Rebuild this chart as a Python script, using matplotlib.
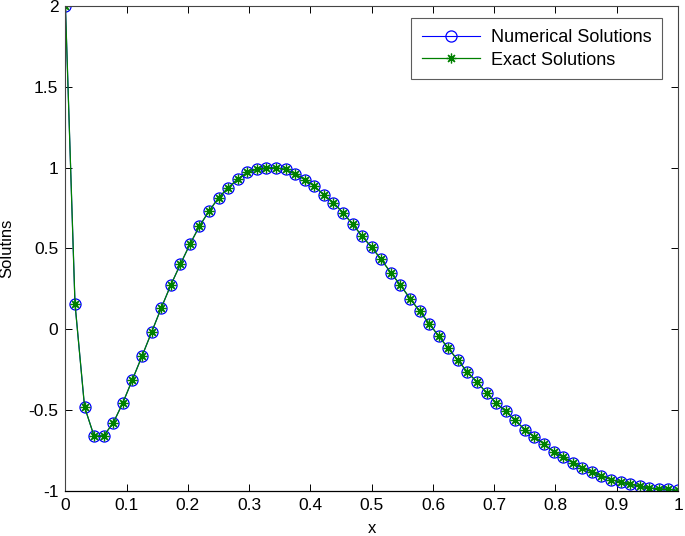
import matplotlib.pyplot as plt

# values (65 nodes, step 1/64)
n_points = 65
x_vals = [i / 64 for i in range(n_points)]

y_numerical = [
    2.0, 0.159, -0.481, -0.663, -0.660, -0.580, -0.456, -0.312, -0.167, -0.019,
    0.130, 0.272, 0.401, 0.525, 0.638, 0.731, 0.814, 0.876, 0.929, 0.971,
    0.991, 0.999, 0.999, 0.990, 0.960, 0.927, 0.886, 0.832, 0.783, 0.721,
    0.651, 0.576, 0.506, 0.432, 0.349, 0.273, 0.190, 0.112, 0.035, -0.043,
    -0.118, -0.192, -0.266, -0.327, -0.394, -0.457, -0.509, -0.565, -0.622, -0.667,
    -0.711, -0.758, -0.791, -0.826, -0.859, -0.884, -0.909, -0.931, -0.946, -0.960,
    -0.971, -0.983, -0.989, -0.992, -0.998,
]
y_exact = list(y_numerical)

x_ticks = [0, 0.1, 0.2, 0.3, 0.4, 0.5, 0.6, 0.7, 0.8, 0.9, 1]
x_tick_labels = ["0", "0.1", "0.2", "0.3", "0.4", "0.5", "0.6", "0.7", "0.8", "0.9", "1"]
y_ticks = [-1, -0.5, 0, 0.5, 1, 1.5, 2]
y_tick_labels = ["-1", "-0.5", "0", "0.5", "1", "1.5", "2"]

plt.rcParams["font.family"] = "sans-serif"
plt.rcParams["font.sans-serif"] = ["Liberation Sans"]
plt.rcParams["font.size"] = 12.5

fig = plt.figure(figsize=(6.85, 5.36), dpi=100)
ax = fig.add_axes([0.0955, 0.0845, 0.8943, 0.9039])

ax.plot(x_vals, y_numerical, color="blue", linewidth=0.8, marker="o",
        markersize=8, markerfacecolor="none", markeredgecolor="blue",
        markeredgewidth=0.9, label="Numerical Solutions")
ax.plot(x_vals, y_exact, color="#008000", linewidth=0.9, marker=(8, 2, 0),
        markersize=7, markeredgecolor="#008000", markeredgewidth=0.9,
        label="Exact Solutions")

ax.set_xlim(0, 1)
ax.set_ylim(-1, 2)
ax.set_xticks(x_ticks)
ax.set_xticklabels(x_tick_labels)
ax.set_yticks(y_ticks)
ax.set_yticklabels(y_tick_labels)
ax.tick_params(direction="in", top=True, right=True, length=5, width=0.7,
               pad=5, labelsize=12.5)

for side in ["top", "right", "left"]:
    ax.spines[side].set_color("#444444")
    ax.spines[side].set_linewidth(0.8)
ax.spines["bottom"].set_color("black")
ax.spines["bottom"].set_linewidth(0.9)

ax.set_xlabel("x", fontsize=12)
ax.set_ylabel("Solutins", fontsize=12)
ax.xaxis.set_label_coords(0.5, -0.062)
ax.yaxis.set_label_coords(-0.083, 0.5)

leg = ax.legend(loc="upper right", bbox_to_anchor=(0.974, 0.975), frameon=True,
                fancybox=False, edgecolor="#333333", handlelength=3.2,
                borderpad=0.6, labelspacing=0.3, handletextpad=0.6,
                borderaxespad=0.0, fontsize=13)
leg.get_frame().set_linewidth(0.8)

fig.savefig("out.png", dpi=100)
